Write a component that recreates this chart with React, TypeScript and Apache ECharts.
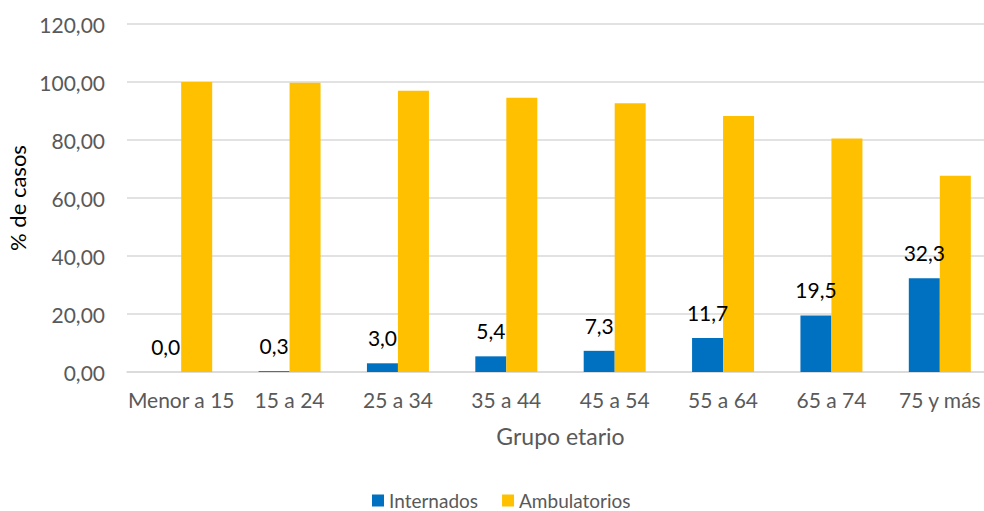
import React, { useEffect, useRef } from "react";
import * as echarts from "echarts";

const categories = ["Menor a 15", "15 a 24", "25 a 34", "35 a 44", "45 a 54", "55 a 64", "65 a 74", "75 y más"];
const internados = [0.0, 0.3, 3.0, 5.4, 7.3, 11.7, 19.5, 32.3];
const ambulatorios = [100.0, 99.7, 97.0, 94.6, 92.7, 88.3, 80.5, 67.7];
const yTicks = { min: 0, max: 120, interval: 20 };

const FONT = "Lato, 'Open Sans', sans-serif";

export default function App() {
  const ref = useRef<HTMLDivElement>(null);
  useEffect(() => {
    if (!ref.current) return;
    const chart = echarts.init(ref.current, null, { renderer: "svg" });
    chart.setOption({
      animation: false,
      textStyle: { fontFamily: FONT },
      grid: { left: 127, right: 0, top: 24, bottom: 139, containLabel: false, outerBoundsMode: "none" },
      legend: {
        left: 372,
        top: 491,
        padding: 0,
        itemWidth: 12,
        itemHeight: 12,
        itemGap: 24,
        icon: "rect",
        textStyle: { fontFamily: FONT, fontSize: 19, color: "#595959" },
        data: ["Internados", "Ambulatorios"],
      },
      xAxis: {
        type: "category",
        data: categories,
        name: "Grupo etario",
        nameLocation: "middle",
        nameGap: 52,
        nameTextStyle: { fontFamily: FONT, fontSize: 23, color: "#595959" },
        axisLine: { lineStyle: { color: "#D9D9D9", width: 1.5 } },
        axisTick: { show: false },
        axisLabel: { interval: 0, fontFamily: FONT, fontSize: 21, color: "#595959", margin: 17 },
      },
      yAxis: {
        type: "value",
        min: yTicks.min,
        max: yTicks.max,
        interval: yTicks.interval,
        name: "% de casos",
        nameLocation: "middle",
        nameGap: 98,
        nameRotate: 90,
        nameTextStyle: { fontFamily: FONT, fontSize: 22, color: "#000000" },
        axisLine: { show: false },
        axisTick: { show: false },
        splitLine: { lineStyle: { color: "#D9D9D9", width: 1.5 } },
        axisLabel: {
          fontFamily: FONT,
          fontSize: 21,
          color: "#595959",
          margin: 22,
          formatter: (v: number) => v.toFixed(2).replace(".", ","),
        },
      },
      series: [
        {
          name: "Internados",
          type: "bar",
          data: internados,
          barWidth: 31,
          barGap: "0%",
          itemStyle: { color: "#0070C0" },
          label: {
            show: true,
            position: "top",
            distance: 15,
            fontFamily: FONT,
            fontSize: 21,
            color: "#000000",
            formatter: (p: any) => Number(p.value).toFixed(1).replace(".", ","),
          },
        },
        {
          name: "Ambulatorios",
          type: "bar",
          data: ambulatorios,
          barWidth: 31,
          barGap: "0%",
          itemStyle: { color: "#FFC000" },
        },
      ],
    });
    return () => chart.dispose();
  }, []);
  return (
    <div style={{ position: "absolute", left: 0, top: 0, width: 984, height: 511, overflow: "hidden", background: "#fff" }}>
      <div ref={ref} style={{ width: 994, height: 511 }} />
    </div>
  );
}
